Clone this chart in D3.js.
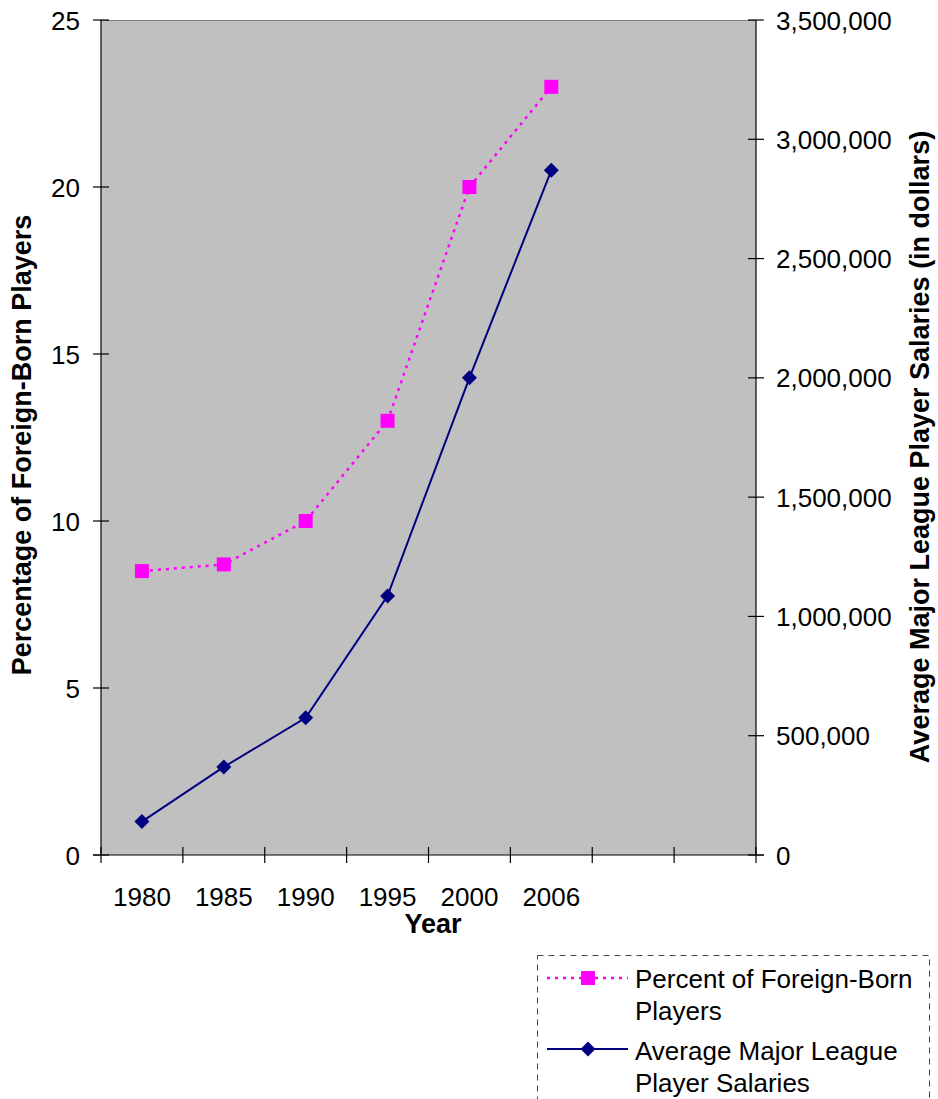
<!DOCTYPE html>
<html><head><meta charset="utf-8">
<script src="https://cdn.jsdelivr.net/npm/d3@7"></script>
<style>body{margin:0;background:#fff}svg{display:block}text{font-family:"Liberation Sans",Arial,sans-serif}</style>
</head><body><svg id="c" width="938" height="1099"></svg>
<script>
const years = ["1980","1985","1990","1995","2000","2006"];
const slotCount = 8;
const pctForeign = [8.5, 8.7, 10, 13, 20, 23];
const avgSalary = [140000, 369000, 575000, 1086000, 2000000, 2870000];
const leftTicks = [0,5,10,15,20,25];
const rightTicks = [0,500000,1000000,1500000,2000000,2500000,3000000,3500000];
const seriesNames = [["Percent of Foreign-Born","Players"],["Average Major League","Player Salaries"]];

const svg = d3.select("#c");
const L=101,R=756,T=20,B=855;
const x = d3.scaleBand().domain(d3.range(slotCount)).range([L,R]);
const yL = d3.scaleLinear().domain([0,25]).range([B,T]);
const yR = d3.scaleLinear().domain([0,3500000]).range([B,T]);

svg.append("rect").attr("x",L).attr("y",T).attr("width",R-L).attr("height",B-T).attr("fill","#C0C0C0");
svg.append("line").attr("x1",L).attr("x2",R).attr("y1",T+0.5).attr("y2",T+0.5).attr("stroke","#808080").attr("stroke-width",1);

const fs = 26, fb = 27;
// left axis
const gL = svg.append("g");
gL.append("line").attr("x1",L).attr("x2",L).attr("y1",T).attr("y2",B).attr("stroke","#000").attr("stroke-width",1.2);
leftTicks.forEach(t=>{
  gL.append("line").attr("x1",L-8).attr("x2",L+8).attr("y1",yL(t)).attr("y2",yL(t)).attr("stroke","#000").attr("stroke-width",1.2);
  gL.append("text").attr("x",80).attr("y",yL(t)+9.5).attr("text-anchor","end").attr("font-size",fs).text(t);
});
// right axis
const gR = svg.append("g");
gR.append("line").attr("x1",R).attr("x2",R).attr("y1",T).attr("y2",B).attr("stroke","#000").attr("stroke-width",1.2);
rightTicks.forEach(t=>{
  gR.append("line").attr("x1",R-8).attr("x2",R+8).attr("y1",yR(t)).attr("y2",yR(t)).attr("stroke","#000").attr("stroke-width",1.2);
  gR.append("text").attr("x",776).attr("y",yR(t)+9.5).attr("text-anchor","start").attr("font-size",fs).text(d3.format(",")(t));
});
// x axis
const gX = svg.append("g");
gX.append("line").attr("x1",L-8).attr("x2",R+8).attr("y1",B).attr("y2",B).attr("stroke","#000").attr("stroke-width",1.2);
d3.range(slotCount+1).forEach(i=>{
  const xx = L + i*x.bandwidth();
  gX.append("line").attr("x1",xx).attr("x2",xx).attr("y1",B-8).attr("y2",B+8).attr("stroke","#000").attr("stroke-width",1.2);
});
years.forEach((yv,i)=>{
  gX.append("text").attr("x",x(i)+x.bandwidth()/2).attr("y",906).attr("text-anchor","middle").attr("font-size",fs).text(yv);
});
// titles
svg.append("text").attr("x",433).attr("y",933).attr("text-anchor","middle").attr("font-size",fb).attr("font-weight","bold").text("Year");
svg.append("text").attr("transform","translate(31,445) rotate(-90)").attr("text-anchor","middle").attr("font-size",fb).attr("font-weight","bold").text("Percentage of Foreign-Born Players");
svg.append("text").attr("transform","translate(929,447) rotate(-90)").attr("text-anchor","middle").attr("font-size",fb).attr("font-weight","bold").text("Average Major League Player Salaries (in dollars)");

const cx = i => x(i)+x.bandwidth()/2;
const pink="#FF00FF", navy="#000080";
// salary line
svg.append("path").datum(avgSalary).attr("fill","none").attr("stroke",navy).attr("stroke-width",2)
  .attr("d",d3.line().x((d,i)=>cx(i)).y(d=>yR(d)));
// pct line
svg.append("path").datum(pctForeign).attr("fill","none").attr("stroke",pink).attr("stroke-width",2.5).attr("stroke-dasharray","3,5")
  .attr("d",d3.line().x((d,i)=>cx(i)).y(d=>yL(d)));
const diamond = (g,px,py)=>g.append("path").attr("d",`M${px},${py-7.5}L${px+7.5},${py}L${px},${py+7.5}L${px-7.5},${py}Z`).attr("fill",navy);
const square = (g,px,py)=>g.append("rect").attr("x",px-7).attr("y",py-7).attr("width",14).attr("height",14).attr("fill",pink);
avgSalary.forEach((d,i)=>diamond(svg,cx(i),yR(d)));
pctForeign.forEach((d,i)=>square(svg,cx(i),yL(d)));

// legend
const lg = svg.append("g");
lg.append("rect").attr("x",537.5).attr("y",955.5).attr("width",392).attr("height",160).attr("fill","none").attr("stroke","#444").attr("stroke-width",1).attr("stroke-dasharray","6,5");
lg.append("line").attr("x1",547).attr("x2",628).attr("y1",978).attr("y2",978).attr("stroke",pink).attr("stroke-width",2.5).attr("stroke-dasharray","3,5");
square(lg,588,978);
lg.append("line").attr("x1",547).attr("x2",628).attr("y1",1049).attr("y2",1049).attr("stroke",navy).attr("stroke-width",2);
diamond(lg,588,1049);
[[988,1020],[1060,1092]].forEach((ys,k)=>{
  seriesNames[k].forEach((s,j)=>lg.append("text").attr("x",635).attr("y",ys[j]).attr("font-size",fs).text(s));
});
</script></body></html>
